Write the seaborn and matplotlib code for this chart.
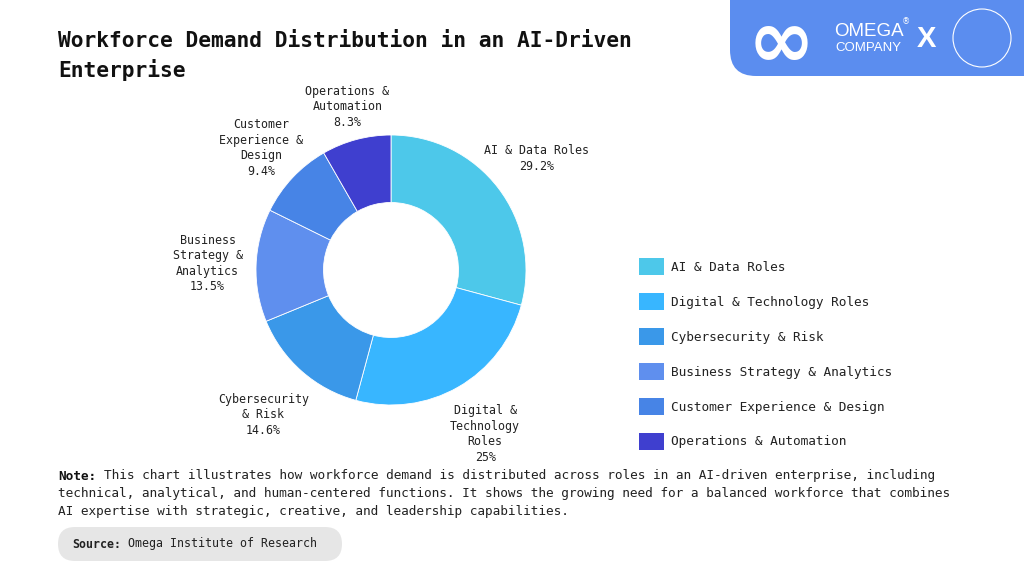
import matplotlib
matplotlib.use("Agg")
import matplotlib.pyplot as plt
import seaborn as sns
from matplotlib.patches import Patch, FancyBboxPatch, Ellipse

# data
roles = ["AI & Data Roles", "Digital & Technology Roles", "Cybersecurity & Risk",
         "Business Strategy & Analytics", "Customer Experience & Design",
         "Operations & Automation"]
share = [29.2, 25, 14.6, 13.5, 9.4, 8.3]
pie_labels = ["AI & Data Roles", "Digital &\nTechnology\nRoles", "Cybersecurity\n& Risk",
              "Business\nStrategy &\nAnalytics", "Customer\nExperience &\nDesign",
              "Operations &\nAutomation"]
colors = ["#4DC8EA", "#38B6FF", "#3A98E9", "#5F8FEE", "#4784E6", "#3F3FCF"]

# label placement (fraction of radius), layout only
label_dist = [1.36, 1.40, 1.43, 1.36, 1.32, 1.25]

sns.set_theme(style="white")
plt.rcParams["font.family"] = ["DejaVu Sans Mono", "DejaVu Sans"]

W, H = 1024, 576
fig = plt.figure(figsize=(W / 100, H / 100), dpi=100)
fig.patch.set_facecolor("white")

def fx(x):
    return x / W

def fy(y):
    return 1 - y / H

# donut
cx, cy, r = 391, 270, 135
half = 1.6 * r
ax = fig.add_axes([fx(cx - half), fy(cy + half), 2 * half / W, 2 * half / H])
labels_full = [f"{l}\n{v:g}%" for l, v in zip(pie_labels, share)]
wedges, texts = ax.pie(share, labels=labels_full, colors=colors, startangle=90,
                       counterclock=False, labeldistance=1.36,
                       wedgeprops=dict(width=0.5, edgecolor="white", linewidth=0.6),
                       textprops=dict(fontsize=8.4, color="#222222", linespacing=1.25))
for t, d in zip(texts, label_dist):
    x, y = t.get_position()
    k = d / 1.36
    t.set_position((x * k, y * k))
    t.set_ha("center")
    t.set_va("center")
ax.set_xlim(-1.6, 1.6)
ax.set_ylim(-1.6, 1.6)
ax.set_aspect("equal")
ax.axis("off")

# legend
handles = [Patch(facecolor=c, edgecolor="none") for c in colors]
fig.legend(handles, roles, loc="upper left", bbox_to_anchor=(fx(639), fy(258)),
           frameon=False, fontsize=9.2, handlelength=1.95, handleheight=1.72,
           labelspacing=1.37, handletextpad=0.55, borderpad=0, borderaxespad=0,
           labelcolor="#222222")

# title
fig.text(fx(58), fy(31), "Workforce Demand Distribution in an AI-Driven\nEnterprise",
         fontsize=15.3, fontweight="bold", color="#111111", va="top", ha="left",
         linespacing=1.45)

# note
cw = 9.2 * 100 / 72 * 0.602
note_first = "This chart illustrates how workforce demand is distributed across roles in an AI-driven enterprise, including"
note_rest = ["technical, analytical, and human-centered functions. It shows the growing need for a balanced workforce that combines",
             "AI expertise with strategic, creative, and leadership capabilities."]
fig.text(fx(58), fy(476), "Note:", fontsize=9.2, fontweight="bold", color="#111111", va="center")
fig.text(fx(58 + 6 * cw), fy(476), note_first, fontsize=9.2, color="#222222", va="center")
for i, line in enumerate(note_rest):
    fig.text(fx(58), fy(494 + i * 17.5), line, fontsize=9.2, color="#222222", va="center")

# source box
fig.patches.append(FancyBboxPatch((fx(58), fy(561)), fx(284), 34 / H,
                                  boxstyle=f"round,pad=0,rounding_size={17 / W}",
                                  transform=fig.transFigure, facecolor="#E6E6E6",
                                  edgecolor="none", mutation_aspect=W / H))
cs = 8.4 * 100 / 72 * 0.602
fig.text(fx(72), fy(544), "Source:", fontsize=8.4, fontweight="bold", color="#222222", va="center")
fig.text(fx(72 + 8 * cs), fy(544), "Omega Institute of Research", fontsize=8.4,
         color="#222222", va="center")

# logo block
fig.patches.append(FancyBboxPatch((fx(730), fy(76)), fx(320), 110 / H,
                                  boxstyle=f"round,pad=0,rounding_size={26 / W}",
                                  transform=fig.transFigure, facecolor="#5B8DEF",
                                  edgecolor="none", mutation_aspect=W / H))
fig.text(fx(781), fy(45), "\u221e", fontsize=58, color="white", fontweight="bold",
         ha="center", va="center", family="DejaVu Sans")
fig.text(fx(834), fy(31), "OMEGA", fontsize=13.5, color="white", ha="left", va="center",
         family="Liberation Sans")
fig.text(fx(902), fy(22), "\u00ae", fontsize=6, color="white", ha="left", va="center",
         family="DejaVu Sans")
fig.text(fx(835), fy(48), "COMPANY", fontsize=9.5, color="white", ha="left", va="center",
         family="Liberation Sans")
fig.text(fx(926), fy(39), "X", fontsize=21, color="white", fontweight="bold", ha="center",
         va="center", family="Liberation Sans")
fig.patches.append(Ellipse((fx(982), fy(38)), 58 / W, 58 / H, transform=fig.transFigure,
                           facecolor="none", edgecolor="white", linewidth=0.8))

fig.savefig("out.png", dpi=100, facecolor="white")
